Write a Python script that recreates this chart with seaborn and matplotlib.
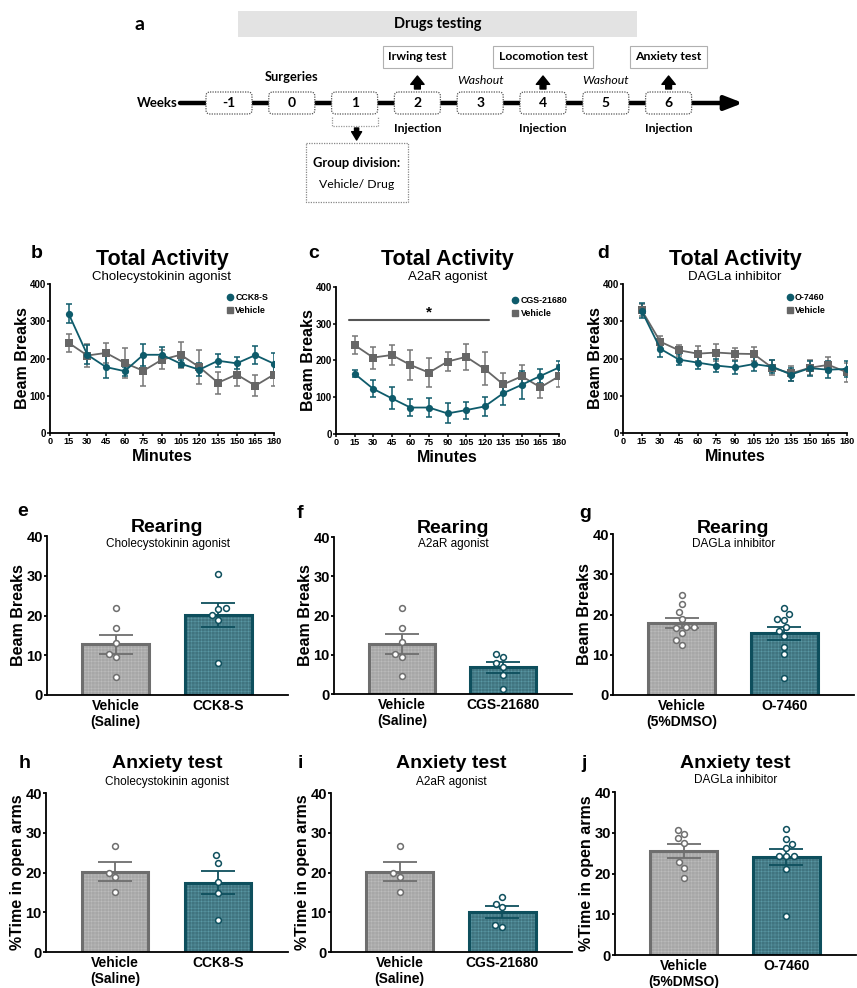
import numpy as np
import pandas as pd
import matplotlib
matplotlib.use("Agg")
import matplotlib.pyplot as plt
import seaborn as sns
from matplotlib.patches import FancyBboxPatch, Rectangle
from matplotlib.lines import Line2D

sns.set_theme(style="ticks")
plt.rcParams["font.family"] = ["Liberation Sans", "DejaVu Sans"]
plt.rcParams["hatch.linewidth"] = 0.35
for k in ("text.color", "axes.labelcolor", "xtick.color", "ytick.color"):
    plt.rcParams[k] = "black"

# ------------------------------------------------------------------ data
weeks = [-1, 0, 1, 2, 3, 4, 5, 6]
labels_above = {0: "Surgeries"}
washout_weeks = [3, 5]
test_boxes = {2: "Irwing test", 4: "Locomotion test", 6: "Anxiety test"}
injection_weeks = [2, 4, 6]

minutes = [15, 30, 45, 60, 75, 90, 105, 120, 135, 150, 165, 180]

cck_act = [320, 210, 177, 166, 210, 210, 186, 170, 194, 187, 209, 186]
cck_act_err = [25, 25, 30, 12, 30, 22, 10, 18, 18, 16, 25, 30]
veh_sal_act = [242, 208, 215, 188, 167, 197, 210, 177, 135, 157, 127, 157]
veh_sal_act_err = [25, 30, 27, 40, 40, 25, 35, 45, 30, 30, 28, 30]

cgs_act = [164, 123, 97, 72, 72, 56, 65, 75, 111, 134, 158, 181]
cgs_act_err = [10, 23, 30, 22, 27, 27, 23, 25, 33, 38, 20, 17]

o7460_act = [328, 226, 197, 189, 181, 176, 185, 178, 157, 174, 170, 172]
o7460_act_err = [20, 23, 15, 18, 18, 18, 18, 18, 18, 20, 22, 22]
veh_dmso_act = [330, 245, 222, 213, 216, 213, 212, 175, 160, 175, 183, 163]
veh_dmso_act_err = [15, 15, 15, 20, 22, 16, 20, 20, 20, 20, 20, 25]

rear_veh_sal = [21.8, 16.9, 13.2, 10.3, 9.5, 4.6]
rear_cck = [30.4, 21.8, 21.6, 20.1, 18.9, 8.0]
rear_cgs = [10.2, 9.5, 7.8, 6.9, 4.8, 1.4]
rear_veh_dmso = [24.9, 22.7, 20.5, 18.8, 16.8, 16.8, 16.6, 15.3, 13.7, 12.4]
rear_o7460 = [21.7, 20.1, 18.9, 18.6, 16.8, 16.0, 14.7, 12.0, 10.1, 4.3]

anx_veh_sal = [26.6, 20.0, 18.9, 15.2]
anx_cck = [24.3, 22.5, 17.7, 14.8, 8.1]
anx_cgs = [13.9, 12.1, 11.2, 6.8, 6.4]
anx_veh_dmso = [30.7, 29.6, 28.6, 27.5, 22.8, 21.3, 18.9]
anx_o7460 = [31.0, 28.4, 27.3, 26.2, 24.4, 24.4, 24.4, 21.1, 9.5]

line_ticks_x = [0, 15, 30, 45, 60, 75, 90, 105, 120, 135, 150, 165, 180]
line_ticks_y = [0, 100, 200, 300, 400]
bar_ticks_y = [0, 10, 20, 30, 40]

# ------------------------------------------------------------------ style
W, H = 857, 988
TEAL_LINE = "#0e5b6b"
GRAY_LINE = "#666666"
GRAY_FILL = "#a7a7a7"
GRAY_EDGE = "#6e6e6e"
GRAY_HATCH = "#bdbdbd"
TEAL_FILL = "#367b89"
TEAL_EDGE = "#0e4f5d"
TEAL_HATCH = "#5a98a5"

fig = plt.figure(figsize=(W / 100, H / 100), dpi=100)


def px_rect(l, t, r, b):
    return [l / W, 1 - b / H, (r - l) / W, (b - t) / H]


def fig_text(x, y, s, **kw):
    fig.text(x / W, 1 - y / H, s, **kw)


def style_axes(ax):
    sns.despine(ax=ax)
    for sp in ("left", "bottom"):
        ax.spines[sp].set_linewidth(1.3)
        ax.spines[sp].set_color("black")


# ------------------------------------------------------------------ panel a (timeline)
axa = fig.add_axes([0, 1 - 215 / H, 1, 215 / H])
axa.set_xlim(0, W)
axa.set_ylim(215, 0)
axa.axis("off")
TF = ["Lato", "DejaVu Sans"]

x0, step = 229.0, 62.8
centers = {w: x0 + step * i for i, w in enumerate(weeks)}
yl = 103

axa.text(140, 24, "a", family=TF, fontsize=14, fontweight="bold", ha="center", va="center")
axa.add_patch(Rectangle((238, 11), 399, 26, fc="#e3e3e3", ec="none"))
axa.text(437.5, 24, "Drugs testing", family=TF, fontsize=10.5, fontweight="bold",
         ha="center", va="center")
axa.text(157, yl, "Weeks", family=TF, fontsize=9.5, fontweight="bold", ha="center", va="center")
axa.annotate("", xy=(743, yl), xytext=(180, yl),
             arrowprops=dict(arrowstyle="-|>,head_length=0.9,head_width=0.35", lw=3.2,
                             color="black", shrinkA=0, shrinkB=0))
for w in weeks:
    xc = centers[w]
    axa.add_patch(FancyBboxPatch((xc - 23, yl - 11), 46, 22,
                                 boxstyle="round,pad=0,rounding_size=4",
                                 fc="white", ec="#555555", lw=0.9, ls=(0, (1, 1)), zorder=3))
    axa.text(xc, yl, str(w), family=TF, fontsize=10, fontweight="bold",
             ha="center", va="center", zorder=4)
for w, s in labels_above.items():
    axa.text(centers[w], 77, s, family=TF, fontsize=9.3, fontweight="bold",
             ha="center", va="center")
for w in washout_weeks:
    axa.text(centers[w], 80, "Washout", family=TF, fontsize=8.8, fontstyle="italic",
             ha="center", va="center")
for w, s in test_boxes.items():
    axa.text(centers[w], 57, s, family=TF, fontsize=8.8, fontweight="bold",
             ha="center", va="center",
             bbox=dict(boxstyle="square,pad=0.45", fc="white", ec="#b0b0b0", lw=0.8))
    axa.annotate("", xy=(centers[w], 76), xytext=(centers[w], 89),
                 arrowprops=dict(arrowstyle="simple,head_length=0.5,head_width=0.8,tail_width=0.35",
                                 color="black", shrinkA=0, shrinkB=0))
for w in injection_weeks:
    axa.text(centers[w], 128, "Injection", family=TF, fontsize=8.8, fontweight="bold",
             ha="center", va="center")
xc1 = centers[1]
axa.plot([xc1 - 23, xc1 - 23, xc1 + 23, xc1 + 23], [117, 126, 126, 117], color="#9a9a9a",
         lw=0.9, ls=(0, (1, 1)))
axa.annotate("", xy=(xc1 + 2, 140), xytext=(xc1 + 2, 128),
             arrowprops=dict(arrowstyle="simple,head_length=0.5,head_width=0.6,tail_width=0.25",
                             color="black", shrinkA=0, shrinkB=0))
axa.add_patch(Rectangle((xc1 - 49, 143), 102, 59, fc="white", ec="#888888", lw=0.9,
                        ls=(0, (1, 1))))
axa.text(xc1 + 2, 163, "Group division:", family=TF, fontsize=9.3, fontweight="bold",
         ha="center", va="center")
axa.text(xc1 + 2, 184, "Vehicle/ Drug", family=TF, fontsize=8.8, ha="center", va="center")


# ------------------------------------------------------------------ line panels
def line_panel(rect, drug, drug_err, veh, veh_err, drug_label, subtitle, letter, leg_x,
               letter_xy):
    l, t, r, b = rect
    ax = fig.add_axes(px_rect(l, t, r, b))
    df = pd.DataFrame({"Minutes": minutes * 2, "Beam Breaks": veh + drug,
                       "group": ["Vehicle"] * len(minutes) + [drug_label] * len(minutes)})
    ax.errorbar(minutes, veh, yerr=veh_err, fmt="none", ecolor="#777777", elinewidth=1.1,
                capsize=2.5, capthick=1.1, zorder=2)
    ax.errorbar(minutes, drug, yerr=drug_err, fmt="none", ecolor=TEAL_LINE, elinewidth=1.1,
                capsize=2.5, capthick=1.1, zorder=2)
    sns.lineplot(data=df, x="Minutes", y="Beam Breaks", hue="group", style="group",
                 markers={"Vehicle": "s", drug_label: "o"}, dashes=False,
                 palette={"Vehicle": GRAY_LINE, drug_label: TEAL_LINE},
                 markersize=5.2, markeredgewidth=0, linewidth=1.3, legend=False, ax=ax,
                 zorder=3)
    ax.set_xlim(0, 180)
    ax.set_ylim(0, 400)
    ax.set_xticks(line_ticks_x)
    ax.set_yticks(line_ticks_y)
    ax.tick_params(axis="x", labelsize=6.6, length=2, width=1.1, pad=1)
    ax.tick_params(axis="y", labelsize=7, length=2, width=1.1, pad=1)
    for tl in ax.get_xticklabels() + ax.get_yticklabels():
        tl.set_fontweight("bold")
    ax.set_xlabel("Minutes", fontsize=11.5, fontweight="bold", labelpad=2)
    ax.set_ylabel("Beam Breaks", fontsize=11.5, fontweight="bold", labelpad=0)
    style_axes(ax)
    handles = [Line2D([], [], marker="o", color=TEAL_LINE, ls="none", markersize=4.5),
               Line2D([], [], marker="s", color=GRAY_LINE, ls="none", markersize=4.5)]
    ax.legend(handles, [drug_label, "Vehicle"], loc="upper left",
              bbox_to_anchor=(leg_x, 0.975), frameon=False,
              prop=dict(size=6.4, weight="bold"), handletextpad=0.1, labelspacing=0.45,
              borderaxespad=0.2, handlelength=1.0)
    cx = (l + r) / 2
    fig_text(cx, 260, "Total Activity", fontsize=15.5, fontweight="bold",
             ha="center", va="center")
    fig_text(cx, 277, subtitle, fontsize=9.5, ha="center", va="center")
    fig_text(letter_xy[0], letter_xy[1], letter, fontsize=14, fontweight="bold",
             ha="center", va="center")
    return ax


line_panel((50, 284, 274, 433), cck_act, cck_act_err, veh_sal_act, veh_sal_act_err,
           "CCK8-S", "Cholecystokinin agonist", "b", 0.76, (37, 253))
axc = line_panel((336, 287, 559, 434), cgs_act, cgs_act_err, veh_sal_act, veh_sal_act_err,
                 "CGS-21680", "A2aR agonist", "c", 0.76, (314, 253))
axc.plot([10.5, 123.5], [310, 310], color="#555555", lw=1.5)
axc.text(75, 312, "*", fontsize=11, fontweight="bold", ha="center", va="bottom")
line_panel((623, 284, 847, 433), o7460_act, o7460_act_err, veh_dmso_act, veh_dmso_act_err,
           "O-7460", "DAGLa inhibitor", "d", 0.70, (603, 253))


# ------------------------------------------------------------------ bar panels
def bar_panel(rect, veh, drug, names, ylabel, title, subtitle, letter, title_y, letter_xy):
    l, t, r, b = rect
    ax = fig.add_axes(px_rect(l, t, r, b))
    df = pd.DataFrame({"group": [names[0]] * len(veh) + [names[1]] * len(drug),
                       "value": veh + drug})
    sns.barplot(data=df, x="group", y="value", hue="group", order=names, hue_order=names,
                palette=[GRAY_FILL, TEAL_FILL], errorbar=None, width=0.65, linewidth=0,
                legend=False, ax=ax)
    edges = [GRAY_EDGE, TEAL_EDGE]
    hatches = [GRAY_HATCH, TEAL_HATCH]
    for p, ec, hc in zip(list(ax.patches), edges, hatches):
        x, y = p.get_x(), p.get_y()
        w, h = p.get_width(), p.get_height()
        ax.add_patch(Rectangle((x, y), w, h, fill=False, hatch="+++++", ec=hc, lw=0,
                               zorder=p.get_zorder() + 0.1))
        ax.add_patch(Rectangle((x, y), w, h, fill=False, ec=ec, lw=2.2,
                               zorder=p.get_zorder() + 0.2))
    for i, (vals, ec) in enumerate(zip([veh, drug], edges)):
        m = np.mean(vals)
        se = np.std(vals, ddof=1) / np.sqrt(len(vals))
        ax.errorbar(i, m, yerr=se, fmt="none", ecolor=ec, elinewidth=1.3, capsize=12,
                    capthick=1.3, zorder=5)
    n0 = len(ax.collections)
    sns.swarmplot(data=df, x="group", y="value", order=names, size=4.2, color="white",
                  linewidth=1.1, ax=ax, zorder=6)
    for coll, ec in zip(ax.collections[n0:], edges):
        coll.set_facecolor("white")
        coll.set_edgecolor(ec)
        coll.set_linewidth(1.1)
    ax.set_xlim(-0.67, 1.68)
    ax.set_ylim(0, 40)
    ax.set_yticks(bar_ticks_y)
    ax.tick_params(axis="y", labelsize=10.5, length=2, width=1.3, pad=1)
    ax.tick_params(axis="x", labelsize=10, length=0, pad=3)
    for tl in ax.get_xticklabels() + ax.get_yticklabels():
        tl.set_fontweight("bold")
    ax.set_xlabel("")
    ax.set_ylabel(ylabel, fontsize=11.5, fontweight="bold", labelpad=0)
    style_axes(ax)
    cx = (l + r) / 2
    fig_text(cx, title_y[0], title, fontsize=14, fontweight="bold", ha="center", va="center")
    fig_text(cx, title_y[1], subtitle, fontsize=8.5, ha="center", va="center")
    fig_text(letter_xy[0], letter_xy[1], letter, fontsize=14, fontweight="bold",
             ha="center", va="center")


bar_panel((47, 536, 288, 695), rear_veh_sal, rear_cck, ["Vehicle\n(Saline)", "CCK8-S"],
          "Beam Breaks", "Rearing", "Cholecystokinin agonist", "e", (527, 544), (23, 512))
bar_panel((334, 537, 572, 694), rear_veh_sal, rear_cgs, ["Vehicle\n(Saline)", "CGS-21680"],
          "Beam Breaks", "Rearing", "A2aR agonist", "f", (528, 544), (300, 513))
bar_panel((613, 534, 854, 695), rear_veh_dmso, rear_o7460, ["Vehicle\n(5%DMSO)", "O-7460"],
          "Beam Breaks", "Rearing", "DAGLa inhibitor", "g", (528, 544), (585, 513))
bar_panel((46, 793, 288, 952), anx_veh_sal, anx_cck, ["Vehicle\n(Saline)", "CCK8-S"],
          "%Time in open arms", "Anxiety test", "Cholecystokinin agonist", "h", (763, 782),
          (25, 763))
bar_panel((331, 793, 572, 952), anx_veh_sal, anx_cgs, ["Vehicle\n(Saline)", "CGS-21680"],
          "%Time in open arms", "Anxiety test", "A2aR agonist", "i", (763, 782), (300, 763))
bar_panel((615, 792, 856, 955), anx_veh_dmso, anx_o7460, ["Vehicle\n(5%DMSO)", "O-7460"],
          "%Time in open arms", "Anxiety test", "DAGLa inhibitor", "j", (763, 780), (584, 763))

fig.savefig("out.png", dpi=100, facecolor="white")
